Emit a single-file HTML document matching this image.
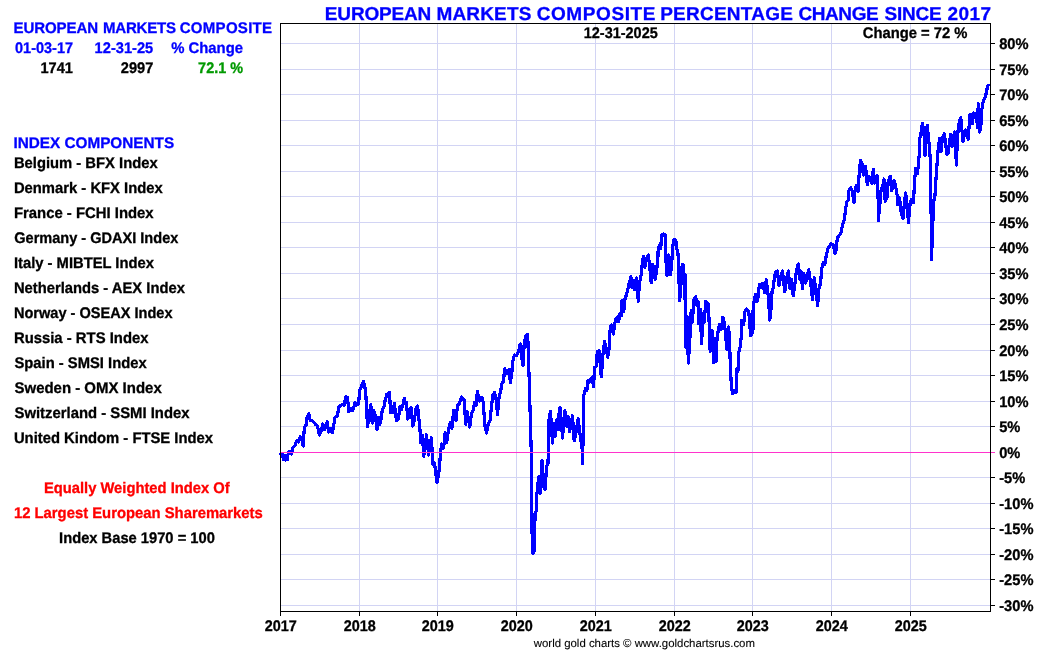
<!DOCTYPE html>
<html lang="en"><head><meta charset="utf-8"><title>European Markets Composite Percentage Change Since 2017</title>
<style>
html,body{margin:0;padding:0;background:#fff;}
body{width:1050px;height:650px;overflow:hidden;position:relative;}
svg{position:absolute;left:0;top:0;display:block;will-change:transform;}
text{font-family:"Liberation Sans",Arial,Helvetica,sans-serif;font-weight:bold;font-size:14.67px;color:#000;fill:currentColor;stroke:currentColor;stroke-width:0.3px;text-rendering:geometricPrecision;}
</style></head><body>
<svg width="1050" height="650" viewBox="0 0 1050 650">
<rect x="0" y="0" width="1050" height="650" fill="#ffffff"/>
<g stroke="#d2d4f4" stroke-width="1" shape-rendering="crispEdges">
<line x1="280.5" y1="605.5" x2="990.5" y2="605.5"/>
<line x1="280.5" y1="579.5" x2="990.5" y2="579.5"/>
<line x1="280.5" y1="554.5" x2="990.5" y2="554.5"/>
<line x1="280.5" y1="528.5" x2="990.5" y2="528.5"/>
<line x1="280.5" y1="503.5" x2="990.5" y2="503.5"/>
<line x1="280.5" y1="477.5" x2="990.5" y2="477.5"/>
<line x1="280.5" y1="426.5" x2="990.5" y2="426.5"/>
<line x1="280.5" y1="401.5" x2="990.5" y2="401.5"/>
<line x1="280.5" y1="375.5" x2="990.5" y2="375.5"/>
<line x1="280.5" y1="350.5" x2="990.5" y2="350.5"/>
<line x1="280.5" y1="324.5" x2="990.5" y2="324.5"/>
<line x1="280.5" y1="298.5" x2="990.5" y2="298.5"/>
<line x1="280.5" y1="273.5" x2="990.5" y2="273.5"/>
<line x1="280.5" y1="247.5" x2="990.5" y2="247.5"/>
<line x1="280.5" y1="222.5" x2="990.5" y2="222.5"/>
<line x1="280.5" y1="196.5" x2="990.5" y2="196.5"/>
<line x1="280.5" y1="171.5" x2="990.5" y2="171.5"/>
<line x1="280.5" y1="145.5" x2="990.5" y2="145.5"/>
<line x1="280.5" y1="120.5" x2="990.5" y2="120.5"/>
<line x1="280.5" y1="94.5" x2="990.5" y2="94.5"/>
<line x1="280.5" y1="69.5" x2="990.5" y2="69.5"/>
<line x1="280.5" y1="43.5" x2="990.5" y2="43.5"/>
<line x1="359.5" y1="23.5" x2="359.5" y2="611.5"/>
<line x1="437.5" y1="23.5" x2="437.5" y2="611.5"/>
<line x1="516.5" y1="23.5" x2="516.5" y2="611.5"/>
<line x1="595.5" y1="23.5" x2="595.5" y2="611.5"/>
<line x1="674.5" y1="23.5" x2="674.5" y2="611.5"/>
<line x1="752.5" y1="23.5" x2="752.5" y2="611.5"/>
<line x1="831.5" y1="23.5" x2="831.5" y2="611.5"/>
<line x1="910.5" y1="23.5" x2="910.5" y2="611.5"/>
</g>
<path d="M280.4,452.3 L281.8,456.5 L282.6,453.8 L283.6,459.5 L284.6,455.3 L285.5,460.0 L286.5,455.5 L287.3,459.6 L288.2,453.0 L289.3,451.2 L291.6,454.0 L292.7,447.7 L295.0,445.4 L296.8,440.8 L298.5,441.9 L300.2,436.7 L302.0,439.0 L303.1,446.0 L304.3,428.1 L306.2,424.6 L307.2,416.5 L308.9,413.7 L310.0,420.0 L312.9,421.2 L315.8,424.6 L317.5,425.8 L319.3,435.0 L321.6,430.4 L322.7,424.0 L324.5,429.8 L327.3,421.7 L328.5,432.1 L330.2,428.1 L332.2,432.7 L333.7,425.8 L334.8,417.7 L337.2,416.0 L339.2,406.2 L342.3,404.4 L344.1,405.6 L345.8,396.9 L347.5,397.5 L348.9,411.9 L351.0,408.5 L352.7,410.8 L355.0,402.7 L356.8,405.0 L358.5,403.8 L359.8,390.2 L361.5,386.2 L363.6,381.5 L365.6,390.8 L366.7,410.4 L367.5,426.5 L369.0,416.2 L370.8,404.6 L372.2,423.1 L373.7,410.4 L375.4,416.2 L377.1,429.4 L378.6,417.3 L379.8,424.2 L381.2,418.5 L382.3,409.2 L384.0,406.9 L385.2,400.0 L386.9,394.2 L389.5,392.5 L390.6,412.7 L392.1,408.1 L392.9,412.1 L394.4,403.5 L395.6,415.0 L396.7,420.8 L398.5,418.5 L399.8,406.9 L401.3,409.8 L402.8,405.8 L404.2,398.3 L405.4,403.5 L406.5,402.3 L407.7,419.0 L409.4,416.2 L410.9,407.5 L412.9,426.0 L414.6,418.5 L416.0,408.1 L417.5,405.8 L418.7,416.2 L420.4,434.6 L420.8,442.9 L422.5,435.4 L423.7,456.2 L426.5,434.8 L428.6,455.0 L431.4,437.7 L432.9,464.2 L434.6,463.1 L436.9,482.7 L438.7,474.6 L440.2,457.3 L441.5,444.0 L443.6,448.1 L445.2,432.5 L446.7,442.3 L448.5,429.6 L450.2,422.5 L451.9,428.3 L453.7,410.4 L456.0,420.8 L457.5,405.2 L459.4,403.5 L461.4,397.1 L464.0,399.4 L465.8,424.2 L467.2,411.5 L469.8,427.1 L471.5,413.3 L473.6,409.8 L474.4,402.3 L476.2,405.2 L477.3,391.3 L479.6,401.2 L481.9,397.1 L483.3,402.3 L484.8,425.4 L486.5,432.9 L488.3,423.7 L490.0,420.8 L491.7,404.6 L492.9,394.8 L494.6,392.5 L496.0,398.8 L497.5,414.4 L499.2,396.5 L500.6,391.9 L501.7,383.8 L503.5,381.5 L504.6,368.8 L507.5,373.5 L509.2,369.4 L510.4,382.7 L511.8,373.5 L512.9,360.8 L514.4,355.0 L516.7,355.6 L518.5,351.5 L520.2,344.0 L521.9,358.5 L523.1,365.4 L524.2,343.5 L526.0,335.4 L527.7,334.2 L528.3,353.8 L529.1,376.9 L529.8,400.0 L530.4,423.0 L531.2,450.0 L531.3,485.0 L531.5,520.0 L533.0,553.5 L534.6,549.6 L535.0,513.8 L536.2,511.5 L536.9,494.0 L538.7,476.7 L540.0,494.0 L542.1,460.6 L543.8,486.5 L545.0,489.5 L546.7,465.8 L547.9,464.6 L548.5,449.6 L548.8,421.5 L550.4,411.5 L551.9,430.8 L552.3,443.1 L553.8,423.1 L555.4,436.2 L556.5,420.0 L558.1,430.0 L558.8,414.6 L560.0,407.7 L561.5,423.1 L562.5,438.1 L563.8,421.5 L564.8,410.8 L566.2,419.2 L566.9,426.2 L568.1,416.9 L569.6,431.5 L571.2,423.1 L572.5,415.8 L574.2,440.8 L575.8,433.1 L578.1,418.8 L579.6,430.8 L581.2,443.1 L582.3,450.0 L582.3,463.5 L583.1,440.0 L583.4,418.5 L583.8,395.4 L585.4,388.5 L586.9,390.0 L587.7,380.8 L589.2,382.3 L590.8,379.0 L592.3,377.0 L593.5,386.9 L594.3,374.0 L594.4,367.7 L596.2,366.5 L597.3,351.5 L599.0,351.0 L601.3,376.9 L603.1,352.7 L604.6,341.2 L606.0,348.1 L607.7,357.3 L609.1,349.2 L610.0,330.8 L611.2,325.0 L612.7,327.3 L613.5,334.2 L614.6,323.8 L615.8,319.2 L617.5,316.9 L618.7,321.5 L619.8,313.5 L621.5,315.8 L621.5,308.1 L622.1,300.0 L623.8,311.5 L625.0,298.8 L626.7,294.2 L628.5,286.2 L629.6,281.5 L631.0,276.9 L631.9,287.3 L633.7,280.4 L634.8,289.6 L636.5,278.1 L638.3,301.2 L639.4,283.8 L641.2,274.6 L642.3,263.1 L643.5,256.2 L645.0,267.1 L646.3,259.6 L648.3,255.0 L649.8,267.7 L651.2,282.7 L652.7,264.2 L653.8,270.0 L655.2,279.2 L656.7,270.0 L657.9,257.3 L658.1,251.5 L659.2,245.4 L660.8,248.5 L661.5,235.4 L663.5,233.8 L665.0,234.6 L665.8,250.8 L666.0,260.8 L667.1,275.8 L668.8,255.0 L670.6,274.6 L671.7,263.1 L672.7,246.9 L673.8,240.0 L675.8,240.0 L676.5,249.2 L677.7,250.0 L678.5,261.5 L678.7,274.6 L679.8,300.6 L681.0,270.0 L682.9,264.2 L683.8,283.8 L685.0,274.6 L685.1,300.0 L685.4,347.0 L687.3,317.0 L688.3,363.0 L689.4,347.7 L690.0,336.2 L691.2,310.8 L692.3,322.3 L694.0,299.2 L695.8,296.9 L696.9,305.0 L698.1,301.5 L698.7,323.5 L700.4,309.6 L701.5,343.7 L703.3,313.1 L704.4,322.3 L705.6,301.5 L707.3,302.7 L708.5,305.0 L709.6,336.2 L710.2,351.7 L712.2,330.4 L713.7,362.7 L715.4,338.5 L716.0,361.5 L717.1,337.3 L717.1,337.3 L719.4,324.6 L721.2,329.2 L722.9,317.1 L724.6,324.6 L726.9,349.4 L728.7,326.9 L729.8,347.7 L730.2,362.7 L731.3,384.6 L732.5,393.3 L734.2,391.5 L736.0,392.1 L736.5,381.2 L737.1,368.5 L738.8,369.6 L738.8,352.3 L740.2,346.5 L741.3,336.2 L741.9,320.0 L743.7,324.6 L744.8,311.9 L746.5,309.0 L748.8,311.3 L750.6,335.6 L752.9,332.7 L753.1,309.6 L754.2,300.4 L755.4,294.6 L757.1,301.5 L758.3,295.8 L759.4,284.2 L761.2,287.7 L762.9,283.1 L764.6,292.3 L766.3,279.6 L768.1,294.6 L769.2,309.6 L769.8,320.0 L771.0,309.6 L772.1,291.2 L773.3,287.7 L774.4,277.3 L775.6,272.1 L777.3,271.0 L779.0,285.4 L780.8,276.2 L782.5,271.0 L784.8,291.7 L786.5,279.6 L788.3,271.0 L790.0,288.8 L791.7,279.6 L793.2,295.8 L795.2,281.9 L796.3,271.5 L798.1,264.0 L799.8,279.6 L801.0,271.0 L802.5,288.8 L803.8,273.3 L805.6,283.1 L807.3,275.0 L808.7,269.8 L810.8,284.2 L812.5,299.8 L814.2,277.9 L816.0,291.2 L817.7,305.6 L818.8,288.8 L820.6,283.1 L821.7,268.1 L823.5,262.3 L824.8,264.6 L826.3,255.4 L828.1,248.5 L831.0,243.8 L833.3,245.0 L835.0,253.7 L836.2,249.6 L837.3,238.1 L839.0,235.8 L840.8,233.5 L841.9,227.7 L843.1,223.1 L844.5,219.6 L845.6,208.1 L847.1,201.2 L848.3,200.4 L848.8,191.2 L850.6,187.7 L852.3,191.2 L854.0,202.7 L855.2,188.8 L856.3,185.4 L858.1,191.2 L859.2,173.8 L860.4,160.6 L862.1,163.5 L863.3,175.0 L865.6,166.3 L867.3,184.8 L869.0,176.2 L870.2,178.5 L871.9,183.1 L873.3,169.2 L874.8,183.1 L877.1,175.6 L878.3,202.7 L878.3,220.8 L880.0,202.7 L881.2,188.8 L882.9,185.4 L884.0,179.0 L885.2,201.5 L886.9,198.1 L888.1,181.9 L890.2,176.2 L891.5,190.6 L892.7,188.8 L894.1,180.2 L895.6,186.5 L897.3,195.8 L897.9,205.0 L899.6,198.1 L901.3,213.1 L903.1,218.8 L904.2,205.0 L905.6,192.9 L907.1,205.0 L908.5,222.5 L909.4,209.6 L910.6,201.5 L911.7,199.2 L913.5,202.7 L914.6,179.6 L915.8,168.1 L917.5,173.8 L918.7,160.0 L919.8,150.8 L919.8,138.2 L921.0,132.4 L922.4,123.4 L923.9,131.5 L925.0,155.3 L926.2,133.4 L927.2,125.3 L928.6,138.2 L929.6,149.6 L930.5,162.0 L930.8,191.0 L931.2,220.0 L931.5,259.5 L932.5,231.0 L933.7,202.0 L934.8,198.0 L936.0,178.5 L937.1,163.5 L938.2,149.6 L939.6,138.2 L941.0,151.5 L942.5,138.2 L944.1,133.9 L945.3,140.1 L946.8,154.4 L948.2,153.4 L949.1,144.8 L950.6,134.4 L952.0,146.8 L953.4,138.2 L954.4,132.0 L955.3,145.8 L956.3,162.0 L956.3,165.0 L957.3,142.9 L958.2,128.6 L959.6,121.0 L960.8,117.7 L962.0,130.5 L963.0,142.0 L964.4,134.4 L965.8,130.1 L967.3,136.3 L968.2,139.1 L969.2,124.8 L970.1,114.3 L971.6,116.2 L972.5,123.9 L973.5,112.9 L975.4,113.4 L976.3,117.2 L977.8,127.7 L978.2,103.6 L979.7,132.0 L981.1,123.9 L981.6,110.5 L981.8,109.5 L983.1,102.1 L984.3,99.0 L985.8,95.3 L986.8,89.8 L988.3,84.0" fill="none" stroke="#0000ff" stroke-width="3.2" stroke-linejoin="round" stroke-linecap="butt" shape-rendering="crispEdges"/>
<line x1="280" y1="452.5" x2="995" y2="452.5" stroke="#ff33cc" stroke-width="1" shape-rendering="crispEdges"/>
<g stroke="#000" stroke-width="1" fill="none" shape-rendering="crispEdges">
<rect x="280.5" y="23.5" width="710.0" height="588.0"/>
<line x1="990.5" y1="605.5" x2="995" y2="605.5"/>
<line x1="990.5" y1="579.5" x2="995" y2="579.5"/>
<line x1="990.5" y1="554.5" x2="995" y2="554.5"/>
<line x1="990.5" y1="528.5" x2="995" y2="528.5"/>
<line x1="990.5" y1="503.5" x2="995" y2="503.5"/>
<line x1="990.5" y1="477.5" x2="995" y2="477.5"/>
<line x1="990.5" y1="426.5" x2="995" y2="426.5"/>
<line x1="990.5" y1="401.5" x2="995" y2="401.5"/>
<line x1="990.5" y1="375.5" x2="995" y2="375.5"/>
<line x1="990.5" y1="350.5" x2="995" y2="350.5"/>
<line x1="990.5" y1="324.5" x2="995" y2="324.5"/>
<line x1="990.5" y1="298.5" x2="995" y2="298.5"/>
<line x1="990.5" y1="273.5" x2="995" y2="273.5"/>
<line x1="990.5" y1="247.5" x2="995" y2="247.5"/>
<line x1="990.5" y1="222.5" x2="995" y2="222.5"/>
<line x1="990.5" y1="196.5" x2="995" y2="196.5"/>
<line x1="990.5" y1="171.5" x2="995" y2="171.5"/>
<line x1="990.5" y1="145.5" x2="995" y2="145.5"/>
<line x1="990.5" y1="120.5" x2="995" y2="120.5"/>
<line x1="990.5" y1="94.5" x2="995" y2="94.5"/>
<line x1="990.5" y1="69.5" x2="995" y2="69.5"/>
<line x1="990.5" y1="43.5" x2="995" y2="43.5"/>
<line x1="280.5" y1="611.5" x2="280.5" y2="616"/>
<line x1="359.5" y1="611.5" x2="359.5" y2="616"/>
<line x1="437.5" y1="611.5" x2="437.5" y2="616"/>
<line x1="516.5" y1="611.5" x2="516.5" y2="616"/>
<line x1="595.5" y1="611.5" x2="595.5" y2="616"/>
<line x1="674.5" y1="611.5" x2="674.5" y2="616"/>
<line x1="752.5" y1="611.5" x2="752.5" y2="616"/>
<line x1="831.5" y1="611.5" x2="831.5" y2="616"/>
<line x1="910.5" y1="611.5" x2="910.5" y2="616"/>
</g>
<text transform="translate(999.2,610.5) scale(1,1.0470)">-30%</text>
<text transform="translate(999.2,584.5) scale(1,1.0470)">-25%</text>
<text transform="translate(999.2,559.5) scale(1,1.0470)">-20%</text>
<text transform="translate(999.2,533.5) scale(1,1.0470)">-15%</text>
<text transform="translate(999.2,508.5) scale(1,1.0470)">-10%</text>
<text transform="translate(999.2,482.5) scale(1,1.0470)">-5%</text>
<text transform="translate(999.2,457.5) scale(1,1.0470)">0%</text>
<text transform="translate(999.2,431.5) scale(1,1.0470)">5%</text>
<text transform="translate(999.2,406.5) scale(1,1.0470)">10%</text>
<text transform="translate(999.2,380.5) scale(1,1.0470)">15%</text>
<text transform="translate(999.2,355.5) scale(1,1.0470)">20%</text>
<text transform="translate(999.2,329.5) scale(1,1.0470)">25%</text>
<text transform="translate(999.2,303.5) scale(1,1.0470)">30%</text>
<text transform="translate(999.2,278.5) scale(1,1.0470)">35%</text>
<text transform="translate(999.2,252.5) scale(1,1.0470)">40%</text>
<text transform="translate(999.2,227.5) scale(1,1.0470)">45%</text>
<text transform="translate(999.2,201.5) scale(1,1.0470)">50%</text>
<text transform="translate(999.2,176.5) scale(1,1.0470)">55%</text>
<text transform="translate(999.2,150.5) scale(1,1.0470)">60%</text>
<text transform="translate(999.2,125.5) scale(1,1.0470)">65%</text>
<text transform="translate(999.2,99.5) scale(1,1.0470)">70%</text>
<text transform="translate(999.2,74.5) scale(1,1.0470)">75%</text>
<text transform="translate(999.2,48.5) scale(1,1.0470)">80%</text>
<text transform="translate(280.8,630.7) scale(1,1.0667)" text-anchor="middle" style="font-size:14.4px">2017</text>
<text transform="translate(359.8,630.7) scale(1,1.0667)" text-anchor="middle" style="font-size:14.4px">2018</text>
<text transform="translate(437.8,630.7) scale(1,1.0667)" text-anchor="middle" style="font-size:14.4px">2019</text>
<text transform="translate(516.8,630.7) scale(1,1.0667)" text-anchor="middle" style="font-size:14.4px">2020</text>
<text transform="translate(595.8,630.7) scale(1,1.0667)" text-anchor="middle" style="font-size:14.4px">2021</text>
<text transform="translate(674.8,630.7) scale(1,1.0667)" text-anchor="middle" style="font-size:14.4px">2022</text>
<text transform="translate(752.8,630.7) scale(1,1.0667)" text-anchor="middle" style="font-size:14.4px">2023</text>
<text transform="translate(831.8,630.7) scale(1,1.0667)" text-anchor="middle" style="font-size:14.4px">2024</text>
<text transform="translate(910.8,630.7) scale(1,1.0667)" text-anchor="middle" style="font-size:14.4px">2025</text>
<text transform="translate(0,19.8) scale(1,0.985)" y="0" style="color:#0000ff;font-size:19.0px"><tspan x="324.86" style="letter-spacing:-0.182px">EUROPEAN </tspan><tspan x="436.46" style="letter-spacing:0.170px">MARKETS </tspan><tspan x="536.64" style="letter-spacing:0.607px">COMPOSITE </tspan><tspan x="660.16" style="letter-spacing:0.241px">PERCENTAGE </tspan><tspan x="798.44" style="letter-spacing:-0.417px">CHANGE </tspan><tspan x="884.42" style="letter-spacing:-0.172px">SINCE </tspan><tspan x="947.43" style="letter-spacing:0.432px">2017</tspan></text>
<text transform="translate(0,32.8) scale(1,1.0206)" y="0" style="color:#0000ff;font-size:15.05px"><tspan x="13.60" style="letter-spacing:-0.111px">EUROPEAN </tspan><tspan x="103.10" style="letter-spacing:-0.259px">MARKETS </tspan><tspan x="179.69" style="letter-spacing:0.267px">COMPOSITE</tspan></text>
<text transform="translate(583.73,37.80) scale(1,1.0608)" style="font-size:14.48px;color:#000000">12-31-2025</text>
<text transform="translate(862.71,37.80) scale(1,1.0385)" style="font-size:14.79px;color:#000000">Change = 72 %</text>
<text transform="translate(15.07,52.80) scale(1,1.0608)" style="font-size:14.48px;color:#0000ff">01-03-17</text>
<text transform="translate(94.62,52.80) scale(1,1.0499)" style="font-size:14.63px;color:#0000ff">12-31-25</text>
<text transform="translate(171.2,52.80) scale(1,1.033)" style="font-size:14.87px;color:#0000ff">% Change</text>
<text transform="translate(40.42,72.80) scale(1,1.0528)" style="font-size:14.59px;color:#000000">1741</text>
<text transform="translate(120.86,72.80) scale(1,1.0528)" style="font-size:14.59px;color:#000000">2997</text>
<text transform="translate(198.12,72.80) scale(1,1.0659)" style="font-size:14.41px;color:#009900">72.1 %</text>
<text transform="translate(13.38,147.80) scale(1,1.0026)" style="font-size:15.32px;color:#0000ff">INDEX COMPONENTS</text>
<text transform="translate(43.91,492.80) scale(1,1.0414)" style="font-size:14.75px;color:#ff0000">Equally Weighted Index Of</text>
<text transform="translate(13.91,517.80) scale(1,1.035)" style="font-size:14.84px;color:#ff0000">12 Largest European Sharemarkets</text>
<text transform="translate(59.12,542.80) scale(1,1.0442)" style="font-size:14.71px;color:#000000">Index Base 1970 = 100</text>
<text transform="translate(533.81,646.50) scale(1,1)" style="font-size:11.4px;color:#000000;font-weight:normal;stroke-width:0.1px">world gold charts © www.goldchartsrus.com</text>
<text transform="translate(13.91,167.80) scale(1,1.0385)" style="font-size:14.79px;color:#000000">Belgium - BFX Index</text>
<text transform="translate(13.91,192.80) scale(1,1.0378)" style="font-size:14.8px;color:#000000">Denmark - KFX Index</text>
<text transform="translate(13.91,217.80) scale(1,1.0316)" style="font-size:14.89px;color:#000000">France - FCHI Index</text>
<text transform="translate(14.22,242.80) scale(1,1.0557)" style="font-size:14.55px;color:#000000">Germany - GDAXI Index</text>
<text transform="translate(13.91,267.80) scale(1,1.0392)" style="font-size:14.78px;color:#000000">Italy - MIBTEL Index</text>
<text transform="translate(13.91,292.80) scale(1,1.0399)" style="font-size:14.77px;color:#000000">Netherlands - AEX Index</text>
<text transform="translate(13.93,317.80) scale(1,1.0542)" style="font-size:14.57px;color:#000000">Norway - OSEAX Index</text>
<text transform="translate(13.91,342.80) scale(1,1.033)" style="font-size:14.87px;color:#000000">Russia - RTS Index</text>
<text transform="translate(14.5,367.80) scale(1,1.0399)" style="font-size:14.77px;color:#000000">Spain - SMSI Index</text>
<text transform="translate(14.5,392.80) scale(1,1.0254)" style="font-size:14.98px;color:#000000">Sweden - OMX Index</text>
<text transform="translate(14.5,417.80) scale(1,1.0336)" style="font-size:14.86px;color:#000000">Switzerland - SSMI Index</text>
<text transform="translate(13.91,442.80) scale(1,1.0364)" style="font-size:14.82px;color:#000000">United Kindom - FTSE Index</text>
</svg></body></html>
